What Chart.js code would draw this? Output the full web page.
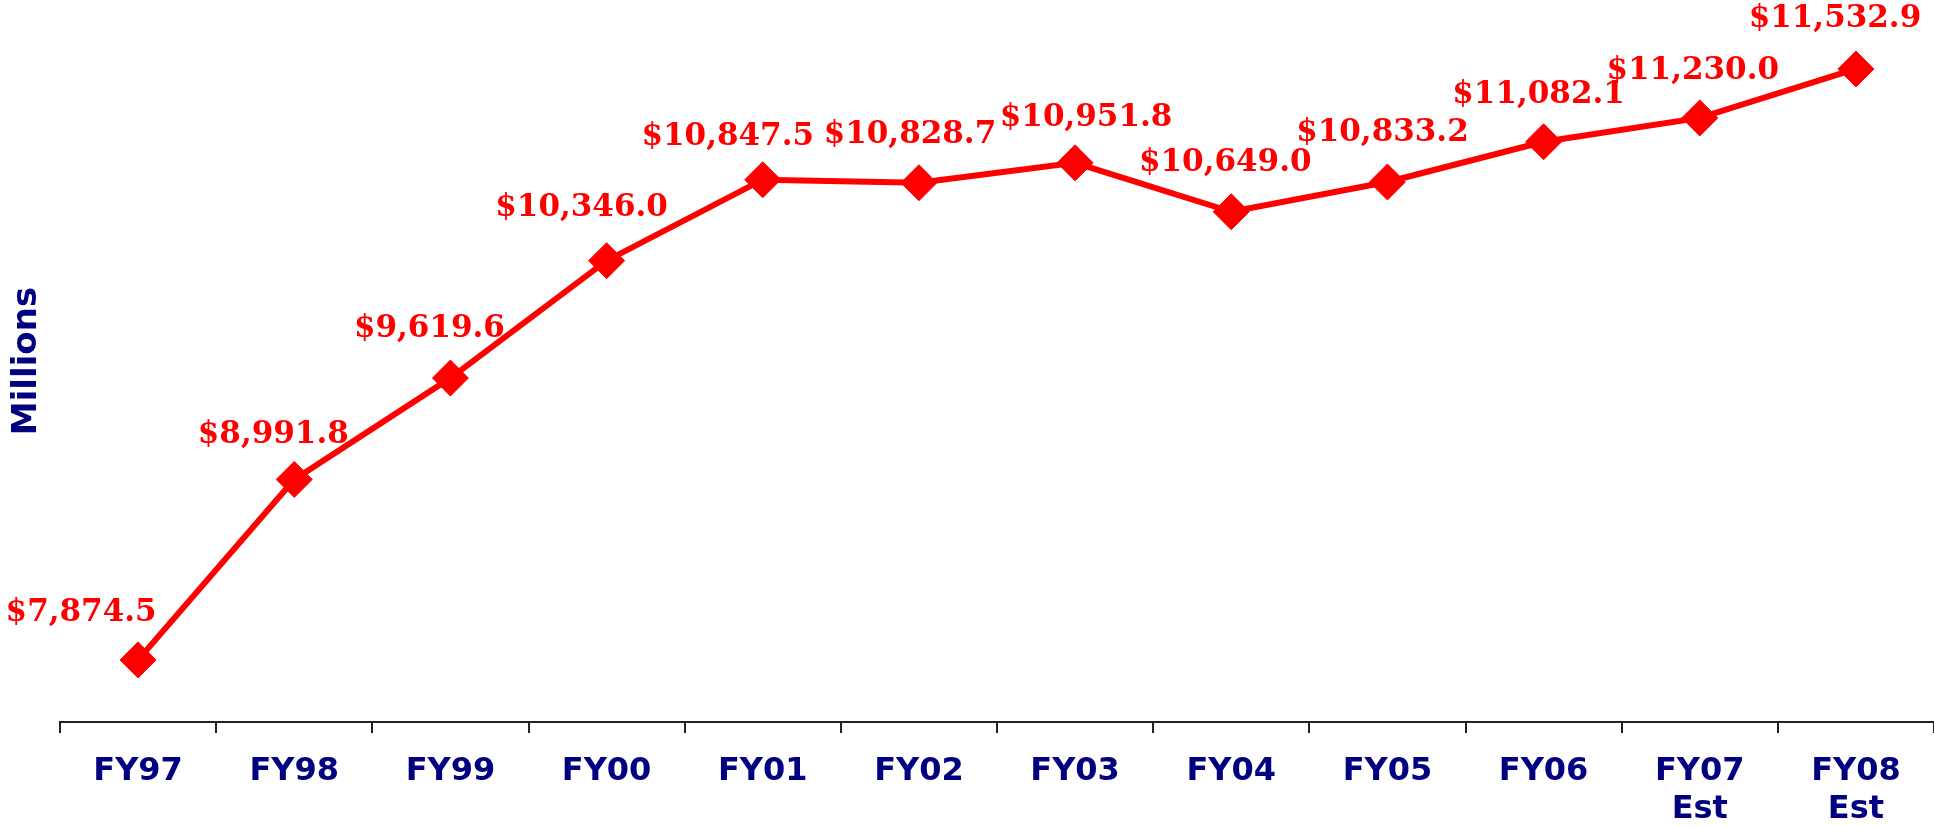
<!DOCTYPE html>
<html>
<head>
<meta charset="utf-8">
<script src="https://cdn.jsdelivr.net/npm/chart.js@4"></script>
<style>
  html, body { margin: 0; padding: 0; background: #fff; }
  #wrap { width: 1934px; height: 827px; }
</style>
</head>
<body>
<div id="wrap"><canvas id="line-chart"></canvas></div>
<script>
// Fiscal years on the x axis
var years = [['FY97'], ['FY98'], ['FY99'], ['FY00'], ['FY01'], ['FY02'], ['FY03'], ['FY04'], ['FY05'], ['FY06'], ['FY07', 'Est'], ['FY08', 'Est']];

// Spending in millions of dollars
var spending = [7874.5, 8991.8, 9619.6, 10346.0, 10847.5, 10828.7, 10951.8, 10649.0, 10833.2, 11082.1, 11230.0, 11532.9];

// Where each value label sits relative to its marker (dx, dy in px)
var labelNudge = [[-57, -47], [-21, -44], [-21, -49], [-25, -53], [-35, -43], [-9, -48], [11, -45], [-6, -49], [-5, -49], [-5, -47], [-7, -47], [-21, -50]];

function money(v) {
    return '$' + v.toLocaleString('en-US', { minimumFractionDigits: 1, maximumFractionDigits: 1 });
}

// Draws the red "$x,xxx.x" labels above each point
var valueLabels = {
    id: 'valueLabels',
    afterDatasetsDraw: function (chart) {
        var ctx = chart.ctx;
        var meta = chart.getDatasetMeta(0);
        ctx.save();
        ctx.font = 'bold 31px "DejaVu Serif"';
        ctx.fillStyle = '#ff0000';
        ctx.textAlign = 'center';
        ctx.textBaseline = 'middle';
        meta.data.forEach(function (pt, i) {
            var n = labelNudge[i];
            ctx.fillText(money(spending[i]), pt.x + n[0], pt.y + n[1]);
        });
        ctx.restore();
    }
};

var ctx = document.getElementById('line-chart').getContext('2d');
var chart = new Chart(ctx, {
    type: 'line',
    data: {
        labels: years,
        datasets: [{
            label: 'Millions',
            data: spending,
            borderColor: '#ff0000',
            backgroundColor: '#ff0000',
            borderWidth: 6,
            fill: false,
            tension: 0,
            pointStyle: 'rectRot',
            pointRadius: 18,
            pointHoverRadius: 18,
            pointBorderWidth: 1
        }]
    },
    plugins: [valueLabels],
    options: {
        responsive: true,
        maintainAspectRatio: false,
        animation: false,
        layout: { padding: 0, autoPadding: false },
        plugins: {
            legend: { display: false },
            tooltip: { enabled: false }
        },
        scales: {
            x: {
                offset: true,
                grid: {
                    offset: true,
                    drawOnChartArea: false,
                    drawTicks: true,
                    tickLength: 11,
                    color: '#222',
                    lineWidth: 2
                },
                border: { display: true, color: '#222', width: 2 },
                ticks: {
                    color: '#000080',
                    padding: 19,
                    maxRotation: 0,
                    autoSkip: false,
                    font: { family: '"DejaVu Sans"', size: 32, weight: 'bold', lineHeight: 1.2 }
                },
                afterFit: function (scale) { scale.height = 105; }
            },
            y: {
                min: 7490,
                max: 11960,
                grid: { display: false },
                border: { display: false },
                ticks: { display: false },
                title: {
                    display: true,
                    text: 'Millions',
                    color: '#000080',
                    padding: { top: 7, bottom: 0 },
                    font: { family: '"DejaVu Sans"', size: 34, weight: 'bold', lineHeight: 1.2 }
                },
                afterFit: function (scale) { scale.width = 60; }
            }
        }
    }
});
</script>
</body>
</html>
